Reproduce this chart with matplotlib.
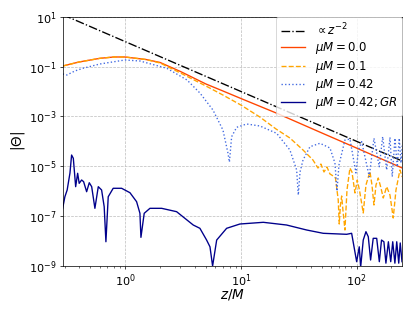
import numpy as np
import matplotlib
matplotlib.use("Agg")
import matplotlib.pyplot as plt
from matplotlib.ticker import NullFormatter

# reference power law, two end points are enough on log-log axes
z_ref = [0.288, 250.0]
theta_ref = [12.05, 1.6e-5]

# muM = 0.0
z_m00 = [0.288, 0.398, 0.604, 0.798, 0.994, 1.51, 2.00, 3.00, 4.98, 6.98, 9.98,
         20.1, 50.1, 100.0, 248.0]
theta_m00 = [0.105, 0.152, 0.214, 0.242, 0.242, 0.192, 0.146, 0.0634, 0.0200,
             0.0105, 0.00525, 0.00138, 2.16e-4, 5.37e-5, 8.5e-6]

# muM = 0.1
z_m01 = [0.288, 0.398, 0.604, 0.798, 0.994, 1.51, 2.00, 3.00, 4.98, 6.98, 9.98,
         14.6, 20.1, 26.5, 34.4, 41.9, 46.3, 49.1, 52.2, 55.4, 58.8, 62.8, 65.6,
         69.3, 70.7, 72.4, 74.2, 76.1, 79.2, 82.5, 87.5, 91.1, 96.7, 101.2, 105.7,
         114.0, 120.3, 130.3, 135.6, 141.1, 146.9, 153.7, 162.2, 169.8, 181.7,
         194.0, 207.0, 218.7, 236.7, 248.0]
theta_m01 = [0.105, 0.152, 0.214, 0.242, 0.242, 0.192, 0.139, 0.0552, 0.0166,
             0.00723, 0.00287, 9.4e-4, 3.13e-4, 1.36e-4, 4.5e-5, 1.79e-5, 8.53e-6,
             1.23e-5, 5.9e-6, 9.36e-6, 4.9e-6, 4.07e-6, 3.39e-6, 4.44e-7, 4.84e-8,
             2.8e-7, 6.43e-7, 1.76e-7, 2.78e-8, 1.12e-6, 8.53e-6, 5.9e-6, 8.48e-7,
             2.82e-6, 1.12e-6, 1.34e-7, 1.77e-6, 6.06e-6, 1.77e-6, 2.8e-7, 1.77e-6,
             3.39e-6, 1.35e-6, 5.35e-7, 1.52e-6, 7.05e-7, 8.42e-8, 1.12e-6, 7.1e-6,
             3.72e-6]

# muM = 0.42
z_m042 = [0.288, 0.313, 0.367, 0.431, 0.604, 0.994, 1.34, 2.29, 3.42, 4.42, 5.73,
          6.99, 7.72, 7.95, 8.31, 9.18, 11.2, 14.6, 20.35, 26.5, 30.3, 31.3, 32.4,
          34.4, 39.5, 48.2, 58.8, 64.9, 67.6, 70.3, 79.2, 87.5, 98.6, 103.6, 110.5,
          128.5, 141.1, 156.8, 167.8, 181.7, 194.0, 203.0, 214.3, 224.4, 233.4,
          241.5, 248.0]
theta_m042 = [0.0503, 0.0459, 0.0664, 0.0852, 0.1267, 0.1833, 0.167, 0.0852,
              0.0289, 0.0087, 0.00181, 2.85e-4, 3.41e-5, 1.48e-5, 1.54e-4, 3.66e-4,
              4.97e-4, 4.13e-4, 2.1e-4, 4.5e-5, 7.1e-6, 7.05e-7, 5.9e-6, 1.79e-5,
              6.1e-5, 8.36e-5, 5.41e-5, 1.35e-5, 1.02e-6, 1.12e-5, 1.13e-4, 1.24e-4,
              5.38e-6, 4.5e-5, 9.68e-5, 3.82e-6, 1.33e-4, 9.6e-6, 1.54e-4, 7.1e-6,
              1.45e-4, 3.82e-6, 1.33e-4, 9.6e-6, 1.33e-4, 1.35e-5, 7.14e-5]

# muM = 0.42, GR
z_gr = [0.288, 0.301, 0.315, 0.333, 0.344, 0.356, 0.373, 0.388, 0.400, 0.420,
        0.437, 0.464, 0.489, 0.513, 0.547, 0.585, 0.625, 0.658, 0.681, 0.713,
        0.787, 0.931, 1.099, 1.254, 1.340, 1.367, 1.459, 1.635, 2.064, 2.78, 3.87,
        4.42, 5.05, 5.40, 5.69, 6.17, 7.52, 9.80, 15.6, 24.8, 37.0, 51.4, 81.9,
        90.5, 100.0, 105.3, 108.3, 114.0, 120.3, 126.0, 132.0, 139.0, 149.0,
        157.0, 164.0, 172.0, 179.0, 188.0, 197.0, 205.0, 214.0, 222.0, 231.0,
        238.0, 246.5]
theta_gr = [2.06e-7, 6.0e-7, 1.12e-6, 5.37e-6, 2.83e-5, 2.09e-5, 1.52e-6, 5.24e-6,
            2.07e-6, 2.82e-6, 2.41e-6, 9.55e-7, 2.19e-6, 1.52e-6, 2.06e-7, 1.52e-6,
            1.12e-6, 2.4e-7, 9.4e-9, 6.0e-7, 1.31e-6, 1.31e-6, 8.7e-7, 3.8e-7,
            1.3e-7, 1.41e-8, 1.3e-7, 2.06e-7, 2.06e-7, 1.51e-7, 4.41e-8, 3.25e-8,
            1.1e-8, 5.9e-9, 1.0e-9, 1.1e-8, 3.25e-8, 4.84e-8, 5.66e-8, 4.41e-8,
            2.78e-8, 2.05e-8, 1.87e-8, 2.05e-8, 1.49e-9, 5.9e-9, 9.0e-10, 1.1e-8,
            2.38e-8, 1.5e-8, 1.74e-9, 1.29e-8, 1.29e-8, 1.49e-9, 1.1e-8, 9.4e-9,
            1.3e-9, 9.4e-9, 1.49e-9, 9.4e-9, 1.3e-9, 9.4e-9, 1.3e-9, 8.4e-9, 1.49e-9]

fig = plt.figure(figsize=(415 / 65, 312 / 65), dpi=65)
ax = fig.add_subplot(111)
fig.subplots_adjust(left=0.151, right=0.9694, top=0.9465, bottom=0.1474)

ax.plot(z_ref, theta_ref, color="black", ls="-.", label=r"$\propto z^{-2}$")
ax.plot(z_m00, theta_m00, color="orangered", ls="-", label=r"$\mu M=0.0$")
ax.plot(z_m01, theta_m01, color="orange", ls="--", label=r"$\mu M=0.1$")
ax.plot(z_m042, theta_m042, color="royalblue", ls=":", label=r"$\mu M=0.42$")
ax.plot(z_gr, theta_gr, color="darkblue", ls="-", label=r"$\mu M=0.42; GR$")

ax.set_xscale("log")
ax.set_yscale("log")
ax.set_xlim(0.288, 248)
ax.set_ylim(1e-9, 10)
ax.xaxis.set_minor_formatter(NullFormatter())
ax.yaxis.set_minor_formatter(NullFormatter())
ax.tick_params(labelsize=12.5)
ax.grid(True, which="major", ls="--", color="0.75", lw=0.8)
ax.set_xlabel(r"$z/M$", fontsize=15, labelpad=-2)
ax.set_ylabel(r"$|\Theta|$", fontsize=15, labelpad=2)
ax.legend(loc="upper right", fontsize=13, borderaxespad=0, labelspacing=0.2,
          handlelength=2.1)

fig.savefig("out.png", dpi=65)
